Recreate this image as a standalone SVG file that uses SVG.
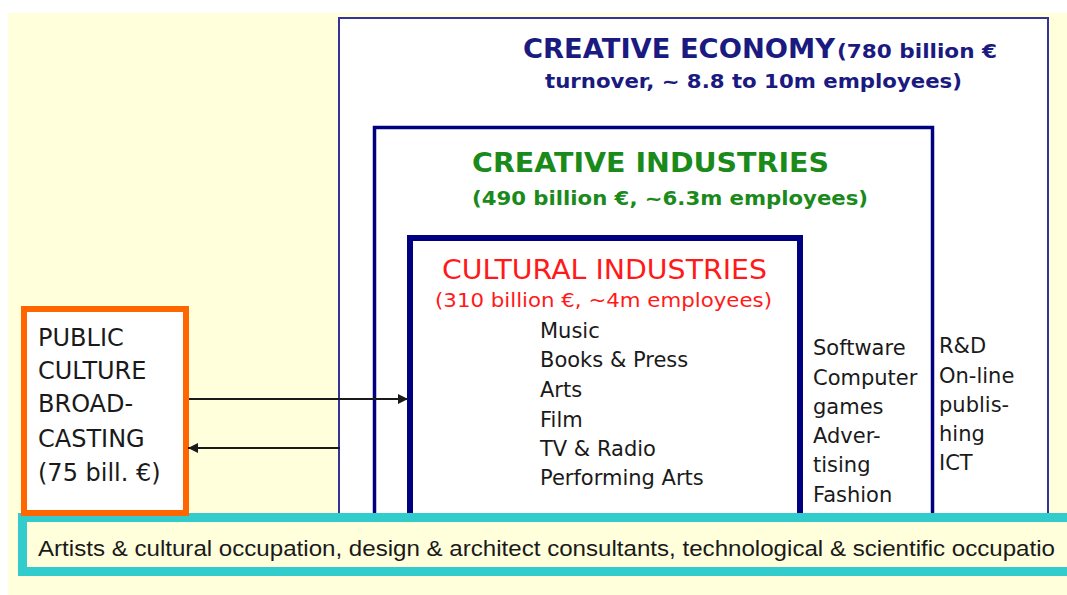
<svg xmlns="http://www.w3.org/2000/svg" width="1067" height="595" viewBox="0 0 1067 595">
<style>
.t{font-family:"DejaVu Sans",Verdana,sans-serif;}
.lst{font-family:"DejaVu Sans",Verdana,sans-serif;font-size:21px;fill:#1a1a1a;}
.navy{fill:#1a1a80;font-weight:bold;}
.green{fill:#1a8a1a;font-weight:bold;}
.red{fill:#ff1a1a;}
.conn{stroke:#1a1a1a;stroke-width:2;fill:none;}
</style>
<defs>
<marker id="ah" viewBox="0 0 10 10" refX="10" refY="5" markerWidth="11" markerHeight="10" markerUnits="userSpaceOnUse" orient="auto-start-reverse">
<path d="M0,0 L10,5 L0,10 z" fill="#1a1a1a"/>
</marker>
</defs>
<rect x="0" y="0" width="1067" height="595" fill="#ffffff"/>
<rect x="8" y="13" width="1059" height="582" fill="#ffffdc"/>

<g id="creative-economy">
<rect x="339" y="18" width="709" height="510" fill="#ffffff" stroke="#333399" stroke-width="2"/>
<text class="t navy" x="523" y="58" font-size="26" textLength="312" lengthAdjust="spacingAndGlyphs">CREATIVE ECONOMY</text>
<text class="t navy" x="837" y="58" font-size="19" textLength="160" lengthAdjust="spacingAndGlyphs">(780 billion €</text>
<text class="t navy" x="545" y="88" font-size="19" textLength="417" lengthAdjust="spacingAndGlyphs">turnover, ~ 8.8 to 10m employees)</text>
<g class="lst">
<text x="939" y="353">R&amp;D</text>
<text x="939" y="383">On-line</text>
<text x="939" y="412">publis-</text>
<text x="939" y="441">hing</text>
<text x="939" y="470">ICT</text>
</g>
</g>

<g id="creative-industries">
<rect x="374.5" y="127.5" width="558" height="400" fill="#ffffff" stroke="#000080" stroke-width="3.5"/>
<text class="t green" x="472" y="172" font-size="27" textLength="357" lengthAdjust="spacingAndGlyphs">CREATIVE INDUSTRIES</text>
<text class="t green" x="472" y="205" font-size="20" textLength="396" lengthAdjust="spacingAndGlyphs">(490 billion €, ~6.3m employees)</text>
<g class="lst">
<text x="813" y="355">Software</text>
<text x="813" y="385">Computer</text>
<text x="813" y="414">games</text>
<text x="813" y="443">Adver-</text>
<text x="813" y="472">tising</text>
<text x="813" y="502">Fashion</text>
</g>
</g>

<g id="cultural-industries">
<rect x="410" y="238" width="390" height="290" fill="#ffffff" stroke="#000080" stroke-width="6"/>
<text class="t red" x="442" y="279" font-size="27" textLength="325" lengthAdjust="spacingAndGlyphs">CULTURAL INDUSTRIES</text>
<text class="t red" x="435" y="307" font-size="20" textLength="337" lengthAdjust="spacingAndGlyphs">(310 billion €, ~4m employees)</text>
<g class="lst">
<text x="540" y="338">Music</text>
<text x="540" y="367">Books &amp; Press</text>
<text x="540" y="397">Arts</text>
<text x="540" y="427">Film</text>
<text x="540" y="456">TV &amp; Radio</text>
<text x="540" y="485">Performing Arts</text>
</g>
</g>

<g id="occupations">
<rect x="22.5" y="517.5" width="1060" height="54" fill="#ffffdc" stroke="#33cccc" stroke-width="9"/>
<text x="38" y="556" font-family="'Liberation Sans',Arial,sans-serif" font-size="22" fill="#1a1a1a" textLength="1017" lengthAdjust="spacingAndGlyphs">Artists &amp; cultural occupation, design &amp; architect consultants, technological &amp; scientific occupatio</text>
</g>

<g id="public-broadcasting">
<rect x="24" y="309" width="162" height="204" fill="#ffffff" stroke="#ff6600" stroke-width="6"/>
<g class="t" font-size="24" fill="#1a1a1a">
<text x="38" y="346">PUBLIC</text>
<text x="38" y="379">CULTURE</text>
<text x="38" y="412">BROAD-</text>
<text x="38" y="447">CASTING</text>
<text x="38" y="481">(75 bill. €)</text>
</g>
</g>

<g id="connectors">
<line class="conn" x1="189" y1="399" x2="408" y2="399" marker-end="url(#ah)"/>
<line class="conn" x1="340" y1="448" x2="188" y2="448" marker-end="url(#ah)"/>
</g>
</svg>
